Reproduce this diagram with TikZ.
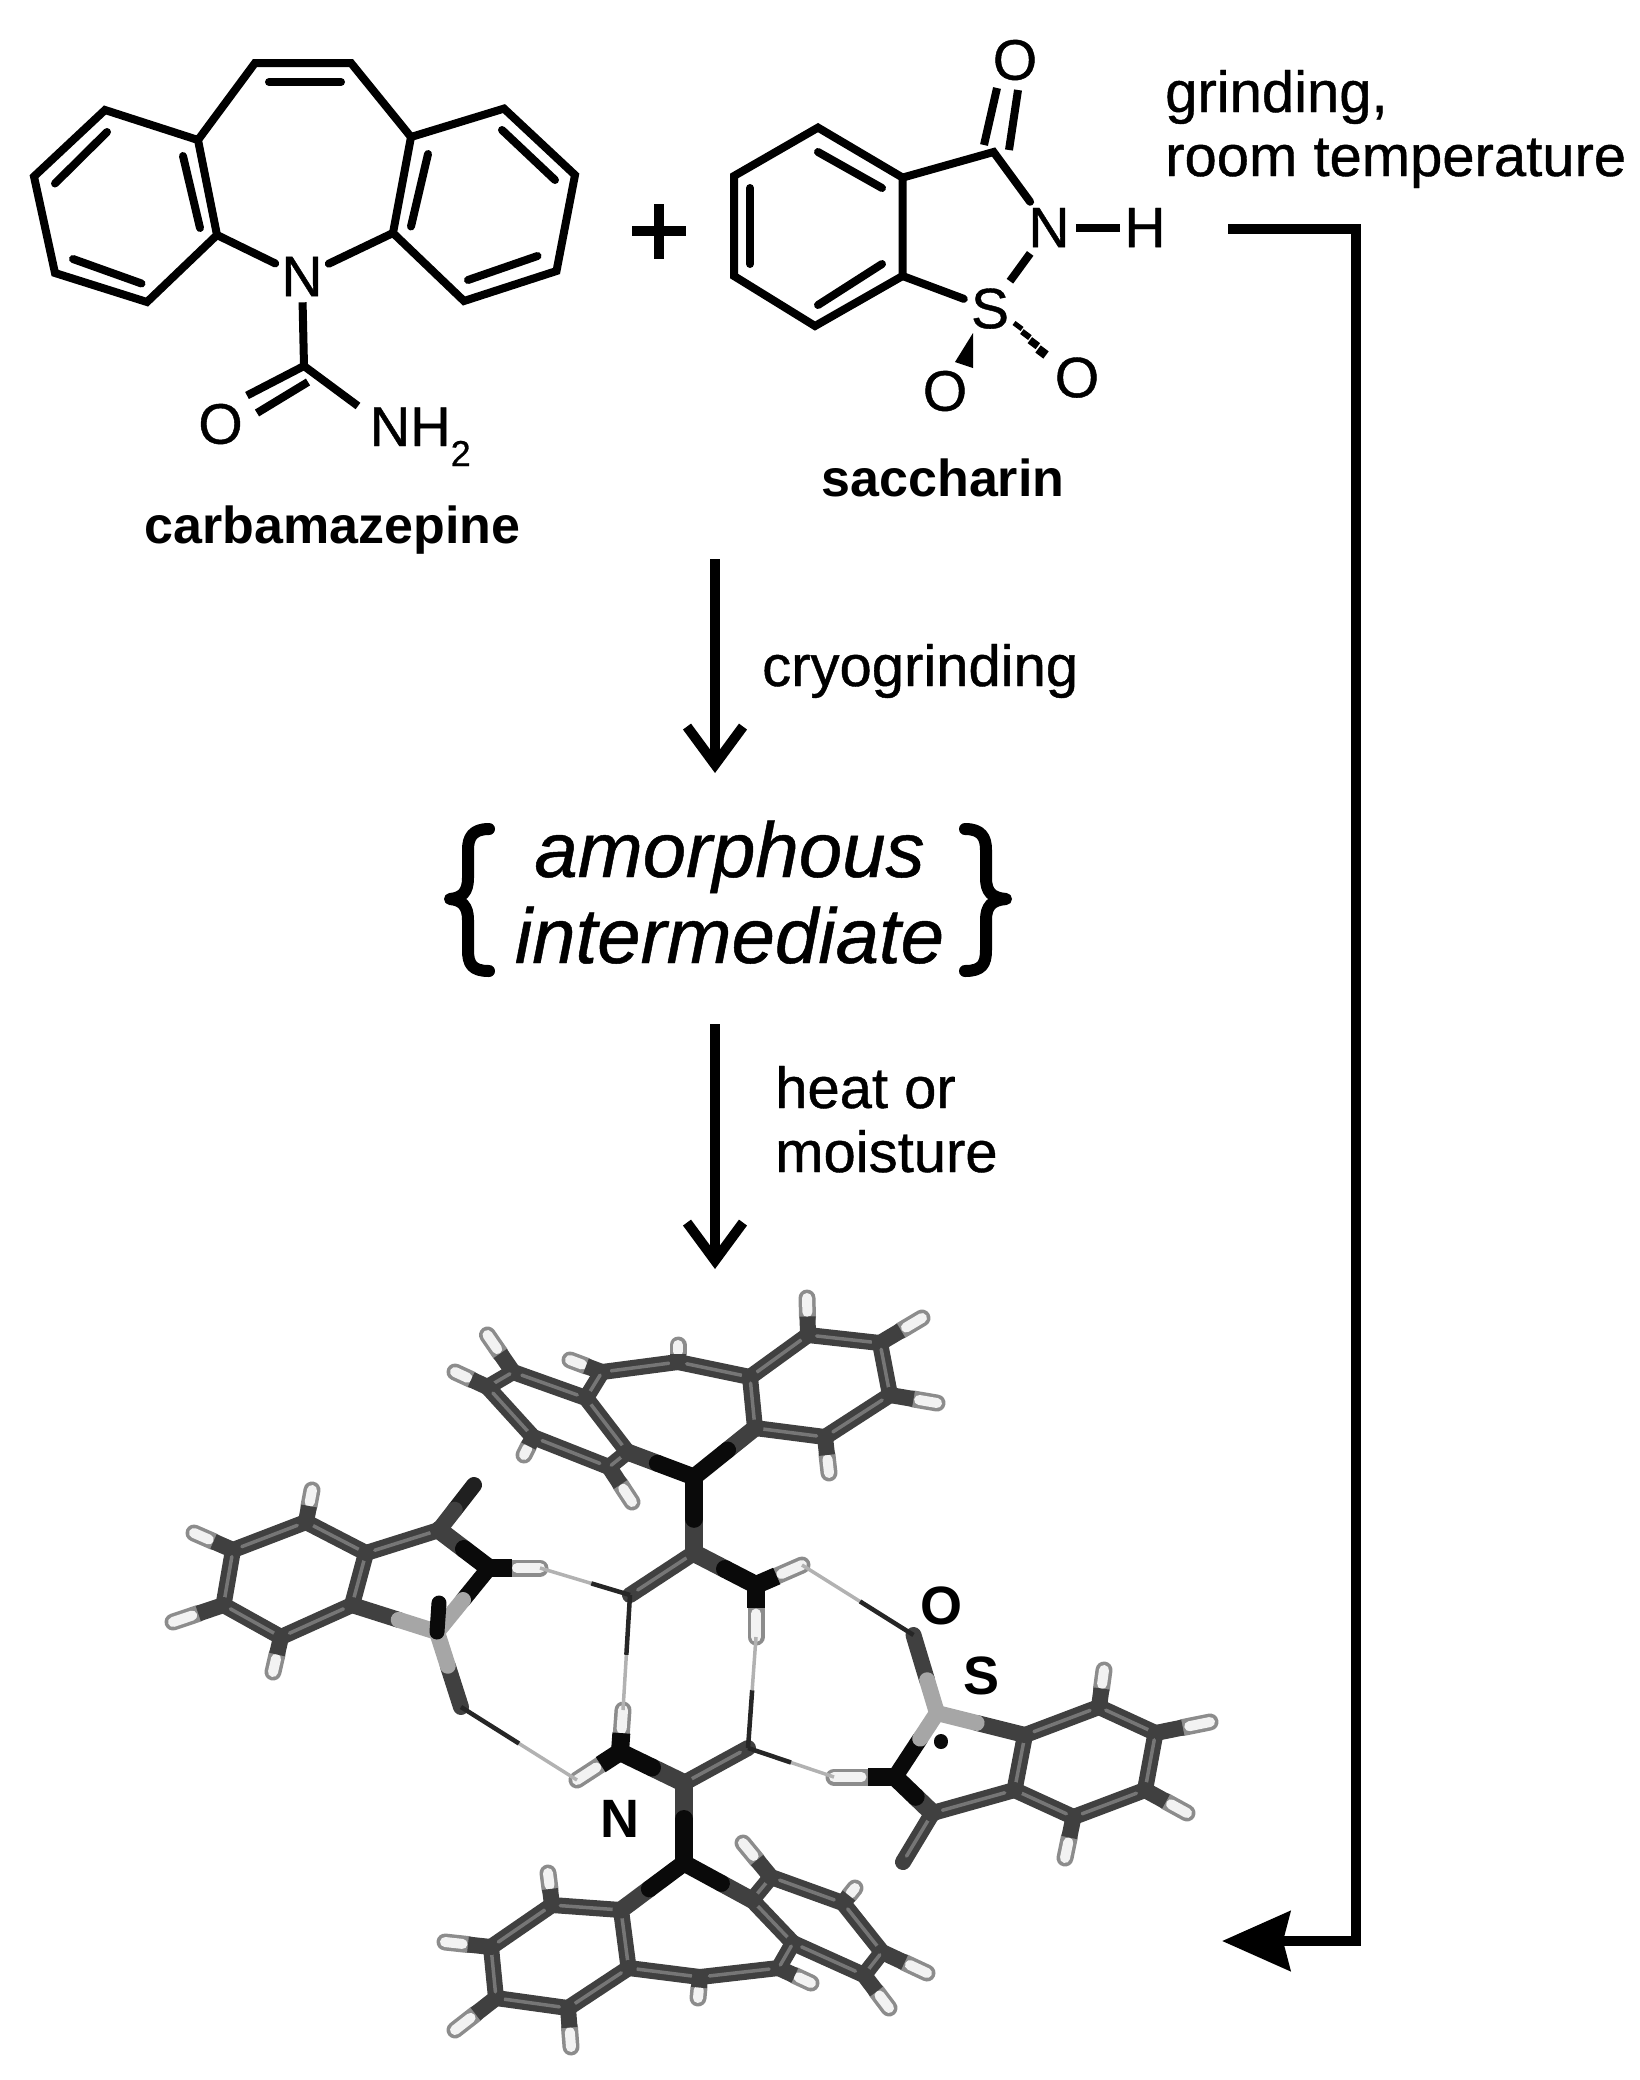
\documentclass[tikz,border=0pt]{standalone}
\usepackage{fontspec}
\setmainfont{Liberation Sans}
\newfontfamily\heavyfont[FakeBold=0.7]{Liberation Sans}
\newfontfamily\heavyitfont[FakeBold=0.6]{Liberation Sans Italic}
\usetikzlibrary{arrows.meta,calc}
\definecolor{tubec}{HTML}{404040}
\definecolor{tubeh}{HTML}{767676}
\definecolor{nblack}{HTML}{0A0A0A}
\definecolor{sgray}{HTML}{A6A6A6}
\definecolor{hedge}{HTML}{8C8C8C}
\definecolor{hfill}{HTML}{F2F2F2}
\tikzset{
  bond/.style={line width=8pt,line cap=butt,line join=miter,black},
  ringbond/.style={bond,line cap=round},
  schem/.style={line width=10pt,black},
  label57/.style={inner sep=0pt,anchor=base west,font=\heavyfont\fontsize{58}{64}\selectfont,align=left},
  atomlab/.style={inner sep=6pt,font=\heavyfont\fontsize{57}{64}\selectfont},
  namelab/.style={inner sep=0pt,anchor=base,font=\fontsize{52}{56}\selectfont\bfseries},
  itlab/.style={inner sep=0pt,anchor=base,font=\heavyitfont\fontsize{78}{86}\selectfont},
  mollab/.style={inner sep=0pt,font=\fontsize{54}{60}\selectfont\bfseries},
  tube/.style={line width=16pt,line cap=round,color=tubec},
  hilite/.style={line width=3.5pt,line cap=round,color=tubeh},
  brace/.style={line width=12pt,line cap=round,line join=round,black}
}
% tube C-C bond
\newcommand\tb[2]{\draw[tube] (#1)--(#2);\draw[hilite] ($(#1)!.12!(#2)$)--($(#1)!.88!(#2)$);}
\newcommand\two[6]{% a b frac colA colB width
  \draw[line width=#6,line cap=round,color=#5] ($(#1)!#3!(#2)$)--(#2);
  \draw[line width=#6,line cap=round,color=#4] (#1)--($(#1)!#3!(#2)$);}
% bond to H
\newcommand\hb[2]{%
  \draw[line width=17pt,line cap=round,color=hedge] ($(#1)!.5!(#2)$)--(#2);
  \draw[line width=10pt,line cap=round,color=hfill] ($(#1)!.62!(#2)$)--(#2);
  \draw[line width=16pt,line cap=butt,color=tubec] (#1)--($(#1)!.5!(#2)$);}
\newcommand\nhb[2]{%
  \draw[line width=17pt,line cap=round,color=hedge] ($(#1)!.45!(#2)$)--(#2);
  \draw[line width=10pt,line cap=round,color=hfill] ($(#1)!.55!(#2)$)--(#2);
  \draw[line width=18pt,line cap=butt,color=nblack] (#1)--($(#1)!.45!(#2)$);}
% hydrogen bond: acceptor, H, fraction of dark part
\newcommand\hbd[3]{%
  \draw[line width=3.5pt,color=black!30] ($(#1)!#3!(#2)$)--(#2);
  \draw[line width=4.5pt,color=black!85] (#1)--($(#1)!#3!(#2)$);}
\begin{document}
\begin{tikzpicture}[x=1pt,y=-1pt]
\useasboundingbox (0,0) rectangle (1639,2080);
% ---------- carbamazepine
\coordinate (la) at (255,63);\coordinate (lb) at (198,140);\coordinate (lc) at (105,110);
\coordinate (ld) at (34,176.5);\coordinate (le) at (55,273);\coordinate (lf) at (147,302);
\coordinate (lg) at (217,235);
\coordinate (ra) at (351,63);\coordinate (rb) at (411,137);\coordinate (rc) at (504,108.6);
\coordinate (rd) at (575,175);\coordinate (re) at (556.5,271);\coordinate (rf) at (464,301);
\coordinate (rg) at (393,233);
\coordinate (cc) at (304,366);\coordinate (nhend) at (358,406);
\node[atomlab] (nc) at (302,276.5) {N};
\node[atomlab,inner sep=0pt] (oc) at (220.5,424) {O};
\node[inner sep=0pt,anchor=base west,font=\heavyfont\fontsize{56}{60}\selectfont] (nh2) at (369.6,446) {NH\raisebox{-20pt}{\fontsize{36}{40}\selectfont 2}};
\draw[ringbond] (nc) -- (lg) -- (lf) -- (le) -- (ld) -- (lc) -- (lb) -- (la) -- (ra) -- (rb) -- (rc) -- (rd) -- (re) -- (rf) -- (rg) -- (nc);
\draw[ringbond] (lb) -- (lg);
\draw[ringbond] (rb) -- (rg);
\draw[ringbond] (269,82) -- (341,82);
\draw[ringbond] (55,183.5) -- (107,132);
\draw[ringbond] (73,259) -- (141.5,283.5);
\draw[ringbond] (183,156) -- (200,228);
\draw[ringbond] (502,130) -- (555,180);
\draw[ringbond] (537.5,256) -- (468,280);
\draw[ringbond] (428,154) -- (411,226.5);
\draw[bond] (nc) -- (cc) -- (nhend);
\draw[bond] (cc) -- (247,395.5);
\draw[bond] (308,382) -- (257,413);
\node[namelab] (cbzname) at (332.5,543) {carbamazepine};
% ---------- plus
\coordinate (pl) at (632,231);\coordinate (pr) at (686,231);\coordinate (pt) at (659,204);\coordinate (pb) at (659,259);
\draw[line width=10pt,black] (pl) -- (pr);
\draw[line width=10pt,black] (pt) -- (pb);
% ---------- saccharin
\coordinate (sa) at (818,127.6);\coordinate (sb) at (734,176);\coordinate (sc) at (734,276);
\coordinate (sd) at (815,326);\coordinate (se) at (902.6,276);\coordinate (sf) at (902.6,177.6);
\coordinate (sg) at (993.6,152);
\node[atomlab] (ns) at (1049,227.6) {N};
\node[atomlab,inner sep=4pt] (hs) at (1145,227.6) {H};
\node[atomlab,inner sep=7pt] (ss) at (990,308.6) {S};
\node[atomlab,inner sep=0pt] (ot) at (1015,60) {O};
\node[atomlab,inner sep=0pt] (ol) at (945,391) {O};
\node[atomlab,inner sep=0pt] (or) at (1077,377.6) {O};
\draw[ringbond] (sf) -- (sa) -- (sb) -- (sc) -- (sd) -- (se) -- (sf) -- (sg) -- (ns);
\draw[ringbond] (se) -- (ss);
\draw[ringbond] (818,152) -- (882,188);
\draw[ringbond] (750,188) -- (750,264);
\draw[ringbond] (818,305) -- (882,264);
\draw[bond] (ns) -- (hs);
\draw[bond] (ns) -- (ss);
\draw[bond] (984,145) -- (997,88);
\draw[bond] (1009,150) -- (1018,90);
\fill[black] (973,333) -- (955,362) -- (973,368) -- cycle;
\foreach \p/\w in {0/5,0.33/6,0.66/7.5,1/9}{
  \draw[line width=\w pt] ($(1018,326)!\p!(1042,352)+(-4,-3)$) -- ($(1018,326)!\p!(1042,352)+(4,3)$);}
\node[namelab] (sacname) at (943,496.5) {saccharin};
% ---------- labels
\node[label57] (grind) at (1165,176) {grinding,\\room temperature};
\node[label57] (cryo) at (762,686) {cryogrinding};
\node[label57] (heat) at (775,1172) {heat or\\moisture};
\node[itlab] (am) at (729.5,877) {amorphous};
\node[itlab] (im) at (729.5,963) {intermediate};
% ---------- braces
\draw[brace] (489,829) .. controls (472,829) and (468,838) .. (468,850) -- (468,878) .. controls (468,892) and (462,898) .. (450,899) .. controls (462,900) and (468,906) .. (468,920) -- (468,950) .. controls (468,964) and (472,971) .. (489,971);
\draw[brace] (965,829) .. controls (982,829) and (986,838) .. (986,850) -- (986,878) .. controls (986,892) and (992,898) .. (1006,899) .. controls (992,900) and (986,906) .. (986,920) -- (986,950) .. controls (986,964) and (982,971) .. (965,971);
% ---------- arrows
\coordinate (a1s) at (715,559);\coordinate (a1e) at (715,773);
\coordinate (a2s) at (715,1024);\coordinate (a2e) at (715,1269);
\draw[schem,-{Straight Barb[length=38pt,width=56pt]}] (a1s) -- (a1e);
\draw[schem,-{Straight Barb[length=38pt,width=56pt]}] (a2s) -- (a2e);
\coordinate (ba) at (1228,229);\coordinate (bb) at (1356,229);\coordinate (bc) at (1356,1941);\coordinate (bd) at (1222,1941);
\draw[schem,line join=miter,-{Stealth[length=68pt,width=59pt,inset=7pt]}] (ba) -- (bb) -- (bc) -- (bd);
% ---------- atoms of the crystal structure: top carbamazepine
\coordinate (N1) at (694,1477);\coordinate (C1) at (694,1553);\coordinate (O1) at (630,1595);\coordinate (N2) at (756,1585);
\coordinate (A1) at (627.5,1452);\coordinate (A2) at (586,1398);\coordinate (A3) at (513,1372);
\coordinate (A4) at (487.5,1387);\coordinate (A5) at (533,1437);\coordinate (A6) at (609,1467);
\coordinate (S1) at (602,1372);\coordinate (S2) at (678,1362);
\coordinate (B1) at (750,1377);\coordinate (B2) at (808,1335);\coordinate (B3) at (880,1343);
\coordinate (B4) at (890,1395);\coordinate (B5) at (825,1437);\coordinate (B6) at (755,1428);
\coordinate (HA3) at (487.5,1335);\coordinate (HA4) at (455,1372);\coordinate (HA5) at (524,1455);\coordinate (HA6) at (632,1502);
\coordinate (HS1) at (570,1360);\coordinate (HS2) at (678,1345);
\coordinate (HB2) at (807,1298);\coordinate (HB3) at (922,1318);\coordinate (HB4) at (937,1403);\coordinate (HB5) at (829,1473);
\coordinate (H2a) at (802,1565);\coordinate (H2b) at (756,1637);
% top CBZ drawn back to front
\hb{S1}{HS1}\hb{S2}{HS2}
\tb{S1}{S2}\tb{S2}{B1}\tb{A2}{S1}
\hb{A3}{HA3}\hb{A4}{HA4}\hb{A5}{HA5}\hb{A6}{HA6}
\tb{A1}{A2}\tb{A2}{A3}\tb{A3}{A4}\tb{A4}{A5}\tb{A5}{A6}\tb{A6}{A1}
\hb{B2}{HB2}\hb{B3}{HB3}\hb{B4}{HB4}\hb{B5}{HB5}
\tb{B1}{B2}\tb{B2}{B3}\tb{B3}{B4}\tb{B4}{B5}\tb{B5}{B6}\tb{B6}{B1}
\two{N1}{A1}{.55}{nblack}{tubec}{17pt}
\two{N1}{B6}{.55}{nblack}{tubec}{17pt}
\two{N1}{C1}{.55}{nblack}{tubec}{18pt}
\tb{C1}{O1}
\nhb{N2}{H2a}\nhb{N2}{H2b}
\two{N2}{C1}{.5}{nblack}{tubec}{18pt}
% left saccharin
\coordinate (L1) at (366,1553);\coordinate (L2) at (306,1522);\coordinate (L3) at (233,1550);
\coordinate (L4) at (223.5,1605);\coordinate (L5) at (281,1637);\coordinate (L6) at (352,1605);
\coordinate (HL2) at (312,1490);\coordinate (HL3) at (194,1533);\coordinate (HL4) at (173,1622);\coordinate (HL5) at (273,1672);
\coordinate (LC) at (439,1530);\coordinate (LO) at (474,1485);\coordinate (LN) at (489,1568);\coordinate (LH) at (540,1568);
\coordinate (LS) at (437,1632);\coordinate (LOa) at (439,1603);\coordinate (LOb) at (461,1707);
\hb{L2}{HL2}\hb{L3}{HL3}\hb{L4}{HL4}\hb{L5}{HL5}
\tb{L1}{L2}\tb{L2}{L3}\tb{L3}{L4}\tb{L4}{L5}\tb{L5}{L6}\tb{L6}{L1}\tb{L1}{LC}
\two{LC}{LO}{.45}{tubec}{nblack!60!tubec}{16pt}
\two{LS}{L6}{.45}{sgray}{tubec}{16pt}
\two{LS}{LOb}{.45}{sgray}{tubec}{16pt}
\two{LS}{LN}{.5}{sgray}{nblack}{16pt}
\draw[line width=15pt,line cap=round,color=nblack] (LS) -- (LOa);
\nhb{LN}{LH}
\two{LN}{LC}{.5}{nblack}{tubec}{18pt}
\hbd{O1}{LH}{.43}
% bottom carbamazepine
\coordinate (C3) at (684,1783);\coordinate (N4) at (620,1752);\coordinate (O3) at (748,1748);\coordinate (N3) at (684,1863);
\coordinate (H4a) at (623,1710);\coordinate (H4b) at (577,1780);
\coordinate (c1) at (621,1910);\coordinate (c2) at (628.6,1968);\coordinate (c3) at (568,2008);
\coordinate (c4) at (496,1998);\coordinate (c5) at (491,1947);\coordinate (c6) at (552,1905);
\coordinate (Hc6) at (548,1873);\coordinate (Hc5) at (445,1942);\coordinate (Hc4) at (455,2030);\coordinate (Hc3) at (571,2047);
\coordinate (m1) at (700,1977);\coordinate (Hm1) at (698,1998);\coordinate (m2) at (778.6,1968);\coordinate (Hm2) at (811,1983);
\coordinate (e1) at (752,1900);\coordinate (e2) at (771,1877);\coordinate (e3) at (843,1903);\coordinate (e4) at (882,1952);\coordinate (e5) at (864,1975);\coordinate (e6) at (793,1943);
\coordinate (He2) at (743,1843);\coordinate (He3) at (855,1888);\coordinate (He4) at (927,1973);\coordinate (He5) at (889,2008);
\hb{e3}{He3}\hb{e2}{He2}\hb{e4}{He4}\hb{e5}{He5}
\tb{e1}{e2}\tb{e2}{e3}\tb{e3}{e4}\tb{e4}{e5}\tb{e5}{e6}\tb{e6}{e1}
\hb{m2}{Hm2}\hb{m1}{Hm1}
\tb{c2}{m1}\tb{m1}{m2}\tb{m2}{e6}
\hb{c6}{Hc6}\hb{c5}{Hc5}\hb{c4}{Hc4}\hb{c3}{Hc3}
\tb{c1}{c2}\tb{c2}{c3}\tb{c3}{c4}\tb{c4}{c5}\tb{c5}{c6}\tb{c6}{c1}
\two{N3}{c1}{.55}{nblack}{tubec}{17pt}
\two{N3}{e1}{.55}{nblack}{tubec}{17pt}
\two{N3}{C3}{.55}{nblack}{tubec}{18pt}
\tb{C3}{O3}
\nhb{N4}{H4a}\nhb{N4}{H4b}
\two{N4}{C3}{.5}{nblack}{tubec}{18pt}
% right saccharin
\coordinate (R1) at (1025,1735);\coordinate (R2) at (1099,1707);\coordinate (R3) at (1155.5,1733);
\coordinate (R4) at (1145,1790);\coordinate (R5) at (1073.5,1817);\coordinate (R6) at (1014.5,1790);
\coordinate (HR2) at (1104,1670);\coordinate (HR3) at (1210,1722);\coordinate (HR4) at (1187,1813);\coordinate (HR5) at (1065,1858);
\coordinate (RC) at (932.5,1813);\coordinate (RO) at (903,1862);\coordinate (RN) at (895,1777);\coordinate (RH) at (834,1777);
\coordinate (RS) at (937,1713);\coordinate (ROa) at (913.5,1635);\coordinate (ROb) at (941,1742);\coordinate (ROc) at (941,1741);
\draw[line width=14pt,line cap=round,color=nblack] (ROc) -- (ROb);
\hb{R2}{HR2}\hb{R3}{HR3}\hb{R4}{HR4}\hb{R5}{HR5}
\tb{R1}{R2}\tb{R2}{R3}\tb{R3}{R4}\tb{R4}{R5}\tb{R5}{R6}\tb{R6}{R1}\tb{R6}{RC}
\tb{RC}{RO}
\two{RS}{R1}{.45}{sgray}{tubec}{16pt}
\two{RS}{ROa}{.42}{sgray}{tubec}{16pt}
\two{RS}{RN}{.4}{sgray}{nblack}{16pt}
\nhb{RN}{RH}
\two{RN}{RC}{.55}{nblack}{tubec}{18pt}
% hydrogen bonds
\hbd{O3}{RH}{.5}
\hbd{ROa}{H2a}{.48}
\hbd{O1}{H4a}{.52}
\hbd{O3}{H2b}{.52}
\hbd{LOb}{H4b}{.5}
% labels on the structure
\node[mollab] (olab) at (941,1606) {O};
\node[mollab] (slab) at (981,1676) {S};
\node[mollab] (nlab) at (620,1819) {N};
\end{tikzpicture}
\end{document}
